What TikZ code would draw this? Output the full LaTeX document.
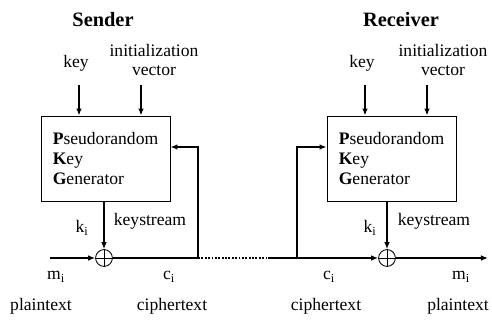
\documentclass[tikz,border=0pt]{standalone}
\usepackage{fontspec}
\setmainfont{Liberation Serif}
\usetikzlibrary{arrows.meta,calc}

\begin{document}
\begin{tikzpicture}[x=0.025cm,y=-0.025cm,
    font=\fontsize{12.5}{14}\selectfont,
    flow/.style={line width=1.4pt,-{Latex[length=5pt,width=4pt]}},
    wire/.style={line width=1.4pt},
    prng/.style={draw,line width=0.6pt,minimum width=3.225cm,minimum height=2.125cm,align=left,inner sep=0pt},
    xor/.style={circle,draw,line width=0.6pt,minimum size=0.42cm,inner sep=0pt},
    title/.style={font=\fontsize{14.5}{16}\selectfont\bfseries}]
    \useasboundingbox (0,0) rectangle (492,320);

    \node[title] (sender) at (103,20) {Sender};
    \node[title] (receiver) at (401,20) {Receiver};
    \node (keyS) at (76,63) {key};
    \node (keyR) at (362,63) {key};
    \node[align=center] (ivS) at (154,60) {initialization\\vector};
    \node[align=center] (ivR) at (443,60) {initialization\\vector};

    \node[prng] (boxS) at (105.5,158.5) {\textbf{P}seudorandom\\\textbf{K}ey\\\textbf{G}enerator};
    \node[prng] (boxR) at (391.5,158.5) {\textbf{P}seudorandom\\\textbf{K}ey\\\textbf{G}enerator};

    \node[xor] (xorS) at (104,258) {};
    \node[xor] (xorR) at (387,258) {};
    \foreach \x in {xorS,xorR}
        \draw[line width=0.6pt] (\x.north)--(\x.south) (\x.west)--(\x.east);

    \coordinate (kinS) at (79,85);
    \coordinate (vinS) at (141,85);
    \coordinate (kinR) at (365,85);
    \coordinate (vinR) at (427,85);
    \foreach \c/\b in {kinS/boxS,vinS/boxS,kinR/boxR,vinR/boxR}
        \draw[flow] (\c) -- (\c |- \b.north);
    \draw[flow] (xorS |- boxS.south) -- (xorS);
    \draw[flow] (xorR |- boxR.south) -- (xorR);

    \coordinate (mS) at (50,258);
    \coordinate (tapS) at (198,258);
    \coordinate (dotE) at (268,258);
    \coordinate (tapR) at (297,258);
    \coordinate (mR) at (488,258);
    \coordinate (fbS) at ($(boxS.east)+(0,-11.5)$);
    \coordinate (fbR) at ($(boxR.west)+(0,-11.5)$);

    \draw[flow] (mS) -- (xorS);
    \draw[wire] (xorS) -- (tapS);
    \draw[flow] (tapS) |- (fbS);
    \draw[wire,densely dotted] (tapS) -- (dotE);
    \draw[wire] (dotE) -- (tapR);
    \draw[flow] (tapR) -- (xorR);
    \draw[flow] (tapR) |- (fbR);
    \draw[flow] (xorR) -- (mR);

    \node (kS) at (82,228) {k\textsubscript{i}};
    \node (kR) at (370,228) {k\textsubscript{i}};
    \node (ksS) at (150,221) {keystream};
    \node (ksR) at (434,221) {keystream};
    \node (miS) at (56,277) {m\textsubscript{i}};
    \node (ciS) at (169,277) {c\textsubscript{i}};
    \node (ciR) at (329,277) {c\textsubscript{i}};
    \node (miR) at (461,277) {m\textsubscript{i}};
    \node (ptS) at (41,306) {plaintext};
    \node (ctS) at (172,306) {ciphertext};
    \node (ctR) at (326,306) {ciphertext};
    \node (ptR) at (458,306) {plaintext};
\end{tikzpicture}
\end{document}
